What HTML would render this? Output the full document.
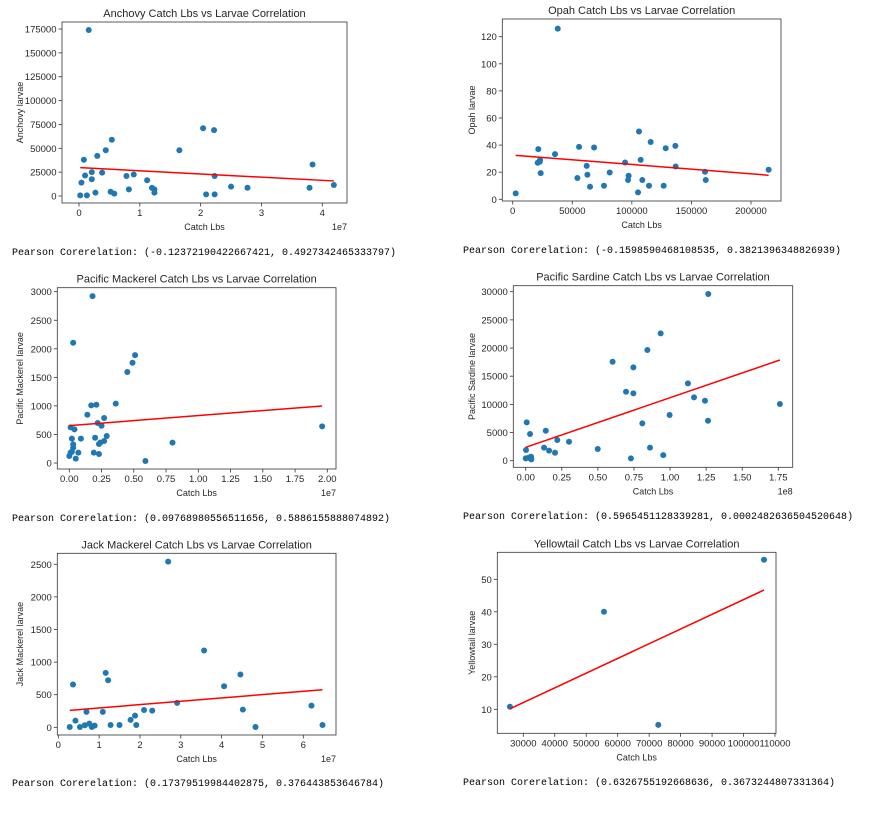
<!DOCTYPE html>
<html><head><meta charset="utf-8">
<style>
html,body{margin:0;padding:0;background:#fff;width:891px;height:815px;overflow:hidden}
svg{position:absolute;left:0;top:0}
text{font-family:"Liberation Sans","DejaVu Sans",sans-serif;fill:#262626}
.mono{font-family:"Liberation Mono",monospace;fill:#000;font-size:10px}
</style></head>
<body>
<svg id="s" width="891" height="815"></svg>
<script>
// ---- data ----
const anchovyX=[0.16,0.02,0.04,0.08,0.1,0.13,0.21,0.21,0.27,0.3,0.38,0.44,0.54,0.52,0.58,0.78,0.82,0.9,1.12,1.2,1.24,1.24,1.65,2.04,2.09,2.22,2.23,2.23,2.5,2.77,3.79,3.84,4.19];
const anchovyY=[174000,700,14000,38000,21500,700,25000,17500,3500,42000,24500,48000,59000,4500,2500,21000,7000,22500,16500,8500,7000,3500,48000,71000,1700,69000,21000,1700,9800,8700,8700,33000,11500];
const opahX=[2500,21500,21000,22700,23000,23500,35500,37800,54300,55700,62100,62700,64900,68300,76600,81400,94300,96800,97300,105200,106000,107400,108800,114400,115800,126700,128400,136500,136800,161400,162000,214800];
const opahY=[4.4,37,27,27.7,29,19.3,33.3,126,15.7,38.7,24.7,18.1,9.3,38.2,10,19.8,27.2,14.2,17.4,5.1,50,29.1,14.2,10,42.3,10,37.7,39.4,24.2,20.3,14.2,21.8];
const pmackX=[0.18,0.03,0.51,0.49,0.45,0.36,0.21,0.17,0.14,0.27,0.22,0.25,0.01,0.04,1.96,0.02,0.09,0.2,0.29,0.27,0.23,0.24,0.03,0.03,0.8,0.01,0.02,0.07,0.19,0.23,0,0.05,0.59];
const pmackY=[2923,2106,1890,1756,1593,1039,1021,1009,846,788,700,653,624,589,642,426,426,443,473,385,333,356,327,268,356,181,198,181,181,158,123,76,35];
const sardX=[1.265,0.935,0.843,0.602,0.746,1.124,0.695,0.746,1.166,1.242,1.761,0.997,1.263,0.808,0.007,0.03,0.139,0.219,0.3,0.499,0.861,0.127,0.162,0.203,0.953,0.002,0.729,0,0.02,0.037,0.039];
const sardY=[29590,22600,19650,17570,16570,13730,12250,11950,11240,10650,10060,8110,7100,6630,6800,4730,5320,3670,3370,2070,2310,2310,1780,1420,1000,1890,410,410,530,710,240];
const jackX=[2.69,3.57,1.16,1.22,4.46,0.36,4.06,2.91,6.2,0.69,1.09,2.1,2.3,4.52,0.42,1.77,1.88,0.28,0.53,0.65,0.76,0.82,0.89,1.28,1.5,1.91,4.83,6.47];
const jackY=[2541,1178,835,722,809,656,630,374,333,236,236,266,256,272,102,113,179,5,5,31,56,5,26,36,36,36,5,36];
const yellowX=[25760,55640,72900,106500];
const yellowY=[10.8,40,5.2,56];
// tick labels
const anchovyXTicks=[0,1,2,3,4], anchovyYTicks=[0,25000,50000,75000,100000,125000,150000,175000];
const opahXTicks=[0,50000,100000,150000,200000], opahYTicks=[0,20,40,60,80,100,120];
const pmackXTicks=[0,0.25,0.5,0.75,1,1.25,1.5,1.75,2], pmackYTicks=[0,500,1000,1500,2000,2500,3000];
const sardXTicks=[0,0.25,0.5,0.75,1,1.25,1.5,1.75], sardYTicks=[0,5000,10000,15000,20000,25000,30000];
const jackXTicks=[0,1,2,3,4,5,6], jackYTicks=[0,500,1000,1500,2000,2500];
const yellowXTicks=[30000,40000,50000,60000,70000,80000,90000,100000,110000], yellowYTicks=[10,20,30,40,50];

const NS='http://www.w3.org/2000/svg', svg=document.getElementById('s');
function mk(tag,attrs,parent,txt){const e=document.createElementNS(NS,tag);for(const k in attrs)e.setAttribute(k,attrs[k]);if(txt!==undefined)e.textContent=txt;(parent||svg).appendChild(e);return e;}
function fmt(v,dec){return dec?v.toFixed(dec):String(v);}

function chart(c){
  const g=mk('g',{});
  
  
  const sx=v=>c.x0p+(v-c.x0v)*(c.x1p-c.x0p)/(c.x1v-c.x0v);
  const sy=v=>c.y0p+(v-c.y0v)*(c.y1p-c.y0p)/(c.y1v-c.y0v);
  const t=mk('text',{x:(c.L+c.R)/2,y:c.T-5,'text-anchor':'middle','font-size':'11'},g,c.title);
  
  c.xt.forEach(v=>{const p=sx(v);
    mk('line',{x1:p,x2:p,y1:c.B,y2:c.B+3.5,stroke:'#333','stroke-width':0.8},g);
    const l=mk('text',{x:p,y:c.B+13,'text-anchor':'middle','font-size':'9.5'},g,fmt(v,c.xdec));
    });
  c.yt.forEach(v=>{const p=sy(v);
    mk('line',{x1:c.L-3.5,x2:c.L,y1:p,y2:p,stroke:'#333','stroke-width':0.8},g);
    const l=mk('text',{x:c.L-5.5,y:p+3.5,'text-anchor':'end','font-size':'9.5'},g,fmt(v,0));
    });
  const xl=mk('text',{x:(c.L+c.R)/2,y:c.B+27,'text-anchor':'middle','font-size':'9'},g,'Catch Lbs');
  
  if(c.off){const o=mk('text',{x:c.R,y:c.B+27,'text-anchor':'end','font-size':'9'},g,c.off);
    }
  const cy=(c.T+c.B)/2;
  const yl=mk('text',{x:c.ylx,y:cy,'text-anchor':'middle','font-size':'9',transform:`rotate(-90 ${c.ylx} ${cy})`},g,c.ylabel);
  
  c.xs.forEach((x,i)=>{const d=mk('circle',{cx:sx(x),cy:sy(c.ys[i]),r:3,fill:'#1f77b4'},g);
    });
  const n=c.xs.length,mx=c.xs.reduce((a,b)=>a+b)/n,my=c.ys.reduce((a,b)=>a+b)/n;
  let sxy=0,sxx=0;c.xs.forEach((x,i)=>{sxy+=(x-mx)*(c.ys[i]-my);sxx+=(x-mx)*(x-mx);});
  const m=sxy/sxx,b=my-m*mx,xa=Math.min(...c.xs),xb=Math.max(...c.xs);
  const fl=mk('line',{x1:sx(xa),y1:sy(m*xa+b),x2:sx(xb),y2:sy(m*xb+b),stroke:'#ff0000','stroke-width':1.5},g);
  
  const f=mk('rect',{x:c.L,y:c.T,width:c.R-c.L,height:c.B-c.T,fill:'none',stroke:'#333','stroke-width':0.8},g);
  
  const p=mk('text',{x:c.px,y:c.py,class:'mono'},g,c.pearson);
  
}

chart({id:'anchovy',title:'Anchovy Catch Lbs vs Larvae Correlation',ylabel:'Anchovy larvae',L:62,R:347,T:22,B:203,
 x0v:0,x0p:79,x1v:4,x1p:322.3,y0v:0,y0p:196,y1v:175000,y1p:29,xs:anchovyX,ys:anchovyY,xt:anchovyXTicks,yt:anchovyYTicks,
 off:'1e7',ylx:23,px:12,py:255,pearson:'Pearson Corerelation: (-0.12372190422667421, 0.4927342465333797)'});
chart({id:'opah',title:'Opah Catch Lbs vs Larvae Correlation',ylabel:'Opah larvae',L:502.3,R:781,T:19,B:201,
 x0v:0,x0p:512.7,x1v:200000,x1p:751,y0v:0,y0p:199.3,y1v:120,y1p:36.7,xs:opahX,ys:opahY,xt:opahXTicks,yt:opahYTicks,
 ylx:475,px:463,py:253,pearson:'Pearson Corerelation: (-0.1598590468108535, 0.3821396348826939)'});
chart({id:'pacific-mackerel',title:'Pacific Mackerel Catch Lbs vs Larvae Correlation',ylabel:'Pacific Mackerel larvae',L:57.3,R:336,T:287.7,B:469,
 x0v:0,x0p:69.3,x1v:2,x1p:327.3,y0v:0,y0p:463,y1v:3000,y1p:291.7,xs:pmackX,ys:pmackY,xt:pmackXTicks,yt:pmackYTicks,xdec:2,
 off:'1e7',ylx:23,px:12,py:521,pearson:'Pearson Corerelation: (0.09768980556511656, 0.5886155888074892)'});
chart({id:'pacific-sardine',title:'Pacific Sardine Catch Lbs vs Larvae Correlation',ylabel:'Pacific Sardine larvae',L:513.3,R:792.7,T:285.7,B:467.3,
 x0v:0,x0p:525.7,x1v:1.75,x1p:778.3,y0v:0,y0p:460.7,y1v:30000,y1p:291.7,xs:sardX,ys:sardY,xt:sardXTicks,yt:sardYTicks,xdec:2,
 off:'1e8',ylx:475,px:463,py:519,pearson:'Pearson Corerelation: (0.5965451128339281, 0.0002482636504520648)'});
chart({id:'jack-mackerel',title:'Jack Mackerel Catch Lbs vs Larvae Correlation',ylabel:'Jack Mackerel larvae',L:57.3,R:336,T:553.3,B:735,
 x0v:0,x0p:58.3,x1v:6,x1p:303.3,y0v:0,y0p:727.3,y1v:2500,y1p:564.3,xs:jackX,ys:jackY,xt:jackXTicks,yt:jackYTicks,
 off:'1e7',ylx:23,px:12,py:786,pearson:'Pearson Corerelation: (0.17379519984402875, 0.376443853646784)'});
chart({id:'yellowtail',title:'Yellowtail Catch Lbs vs Larvae Correlation',ylabel:'Yellowtail larvae',L:497.3,R:776,T:552.3,B:733.3,
 x0v:30000,x0p:523.3,x1v:110000,x1p:775,y0v:10,y0p:709.3,y1v:50,y1p:579.3,xs:yellowX,ys:yellowY,xt:yellowXTicks,yt:yellowYTicks,
 ylx:475,px:463,py:785,pearson:'Pearson Corerelation: (0.6326755192668636, 0.3673244807331364)'});
</script>
</body></html>
